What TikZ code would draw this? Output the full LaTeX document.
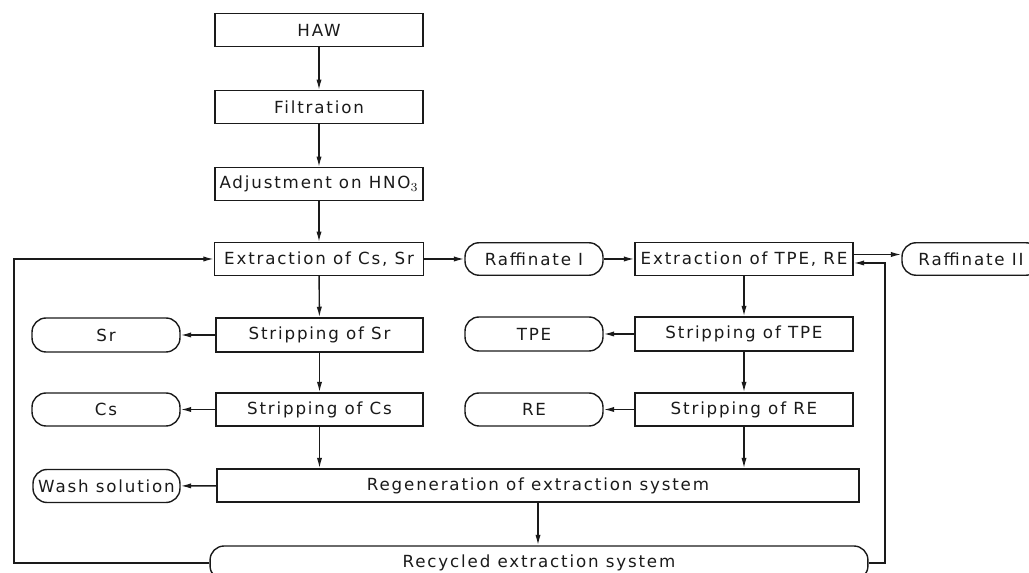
\documentclass[tikz,border=0pt]{standalone}
\usepackage{fontspec}
\setmainfont{DejaVu Sans}[LetterSpace=11]
\usepackage{tikz}
\usetikzlibrary{arrows.meta, positioning, calc}
\definecolor{pInk}{HTML}{1A1A1A}

\begin{document}
\begin{tikzpicture}[
  x=0.02cm, y=-0.02cm,
  every node/.style={font=\fontsize{9.5}{11}\selectfont, text=pInk},
  proc/.style={rectangle, draw=pInk, line width=0.8pt, minimum height=0.65cm,
               inner sep=0pt, align=center},
  term/.style={rectangle, rounded corners=8pt, draw=pInk, line width=0.8pt,
               minimum height=0.65cm, inner sep=0pt, align=center},
  flow/.style={draw=pInk, line width=0.8pt, -{Latex[length=6pt,width=3pt]}}
]
\useasboundingbox (0,0) rectangle (1029,573);

% main column
\node[proc, minimum width=4.16cm] (haw)  at (319,30)  {HAW};
\node[proc, minimum width=4.16cm] (filt) at (319,107) {Filtration};
\node[proc, minimum width=4.16cm] (adj)  at (319,184) {Adjustment on HNO$_3$};
\node[proc, minimum width=4.18cm] (excs) at (319,259) {Extraction of Cs, Sr};
\node[proc, minimum width=4.14cm, minimum height=0.68cm] (strsr) at (319.5,335)   {Stripping of Sr};
\node[proc, minimum width=4.14cm, minimum height=0.66cm] (strcs) at (319.5,409.5) {Stripping of Cs};
\node[term, minimum width=2.96cm, minimum height=0.68cm] (sr) at (106,335)   {Sr};
\node[term, minimum width=2.96cm, minimum height=0.66cm] (cs) at (106,409.5) {Cs};

% second column
\node[term, minimum width=2.76cm] (raf1) at (534,259) {Raffinate I};
\node[proc, minimum width=4.36cm] (extpe) at (744,259) {Extraction of TPE, RE};
\node[term, minimum width=2.76cm] (raf2) at (971,259) {Raffinate II};
\node[proc, minimum width=4.36cm, minimum height=0.68cm] (strtpe) at (744,334)   {Stripping of TPE};
\node[proc, minimum width=4.36cm, minimum height=0.66cm] (strre)  at (744,409.5) {Stripping of RE};
\node[term, minimum width=2.76cm, minimum height=0.68cm] (tpe) at (534,334)   {TPE};
\node[term, minimum width=2.76cm, minimum height=0.66cm] (re)  at (534,409.5) {RE};

% regeneration
\node[proc, minimum width=12.84cm, minimum height=0.66cm] (regen) at (538,485.5) {Regeneration of extraction system};
\node[term, minimum width=2.94cm, minimum height=0.66cm] (wash) at (106.5,486) {Wash solution};
\node[term, minimum width=13.16cm, minimum height=0.68cm] (recyc) at (539,563) {Recycled extraction system};

\coordinate (loopL) at (14,563);
\coordinate (loopR) at (885,563);

\draw[flow] (haw) -- (filt);
\draw[flow] (filt) -- (adj);
\draw[flow] (adj) -- (excs);
\draw[flow] (excs) -- (strsr);
\draw[flow] (strsr) -- (strcs);
\draw[flow] (strsr) -- (sr);
\draw[flow] (strcs) -- (cs);
\draw[flow] (excs) -- (raf1);
\draw[flow] (raf1) -- (extpe);
\draw[flow] ([yshift=0.09cm]extpe.east) -- ([yshift=0.09cm]raf2.west);
\draw[flow] (extpe) -- (strtpe);
\draw[flow] (strtpe) -- (strre);
\draw[flow] (strtpe) -- (tpe);
\draw[flow] (strre) -- (re);
\draw[flow] (strcs.south) -- (strcs.south |- regen.north);
\draw[flow] (strre.south) -- (strre.south |- regen.north);
\draw[flow] (regen) -- (wash);
\draw[flow] (regen.south) -- (regen.south |- recyc.north);
\draw[flow] (recyc.west) -- (loopL) |- (excs.west);
\draw[flow] (recyc.east) -- (loopR) |- ([yshift=-0.08cm]extpe.east);
\end{tikzpicture}
\end{document}
